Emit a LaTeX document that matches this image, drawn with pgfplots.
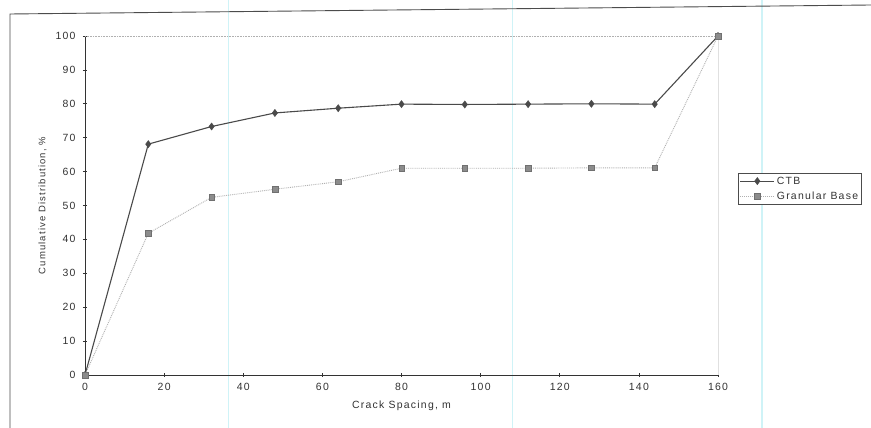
\documentclass[border=0pt]{standalone}
\usepackage{pgfplots}
\pgfplotsset{compat=1.18}
\usepackage{fontspec}
\setmainfont{Liberation Sans}[LetterSpace=12]
\definecolor{ctb}{HTML}{4A4A4A}
\definecolor{gran}{HTML}{8C8C8C}
\definecolor{granline}{HTML}{B0B0B0}
\definecolor{scan}{HTML}{CFF3F7}
\begin{document}
\begin{tikzpicture}
\useasboundingbox (0,0) rectangle (871bp,428bp);
\fill[white] (0,0) rectangle (871bp,428bp);
% scan artifacts
\draw[scan, line width=1bp] (228bp,0) -- (228bp,428bp);
\draw[scan, line width=1bp] (512bp,0) -- (512bp,428bp);
\draw[scan, line width=1.5bp] (762bp,0) -- (762bp,428bp);
% chart area frame
\draw[black!70, line width=0.9bp] (10bp,0) -- (10bp,414bp) -- (871bp,423bp);
\begin{axis}[
  at={(85bp,53bp)}, anchor=south west,
  scale only axis, width=633bp, height=339bp,
  xmin=0, xmax=160, ymin=0, ymax=100,
  xtick={0,20,...,160}, ytick={0,10,...,100},
  axis lines*=left,
  axis line style={black!80, line width=0.8bp},
  every axis x line/.append style={-},
  every axis y line/.append style={-},
  tick align=center, major tick length=4bp,
  tick style={black!80, line width=0.6bp},
  /pgf/number format/assume math mode=true,
  ticklabel style={font=\fontsize{10.5}{12}\selectfont, text=black!80},
  xticklabel style={yshift=-3bp},
  yticklabel style={xshift=-4bp},
  xlabel={Crack Spacing, m},
  xlabel style={font=\fontsize{10.5}{12}\selectfont, text=black!80, yshift=-3bp},
  ylabel={Cumulative Distribution, \%},
  ylabel style={font=\fontsize{9.5}{11}\selectfont, text=black!80, yshift=2bp},
  clip=false,
  legend image code/.code={
    \draw[mark repeat=2, mark phase=2] plot coordinates {(0cm,0cm) (0.6cm,0cm) (1.2cm,0cm)};},
  legend style={at={(1.0316,0.596)}, anchor=north west, draw=black!70,
    line width=0.5bp, font=\fontsize{10.5}{12}\selectfont, text=black!80,
    inner sep=1.5bp, row sep=2bp, cells={anchor=west}},
]
\draw[granline, densely dotted, line width=0.6bp] (axis cs:0,100) -- (axis cs:160,100);
\draw[black!12, line width=0.6bp] (axis cs:160,0) -- (axis cs:160,100);
\addplot[color=ctb, line width=1.1bp, mark=diamond*, mark size=3.6bp,
  mark options={fill=ctb, draw=ctb, line width=0.4bp}]
  coordinates {(0,0) (16,68.1) (32,73.3) (48,77.3) (64,78.7) (80,79.9)
               (96,79.8) (112,79.9) (128,80.0) (144,79.9) (160,100)};
\addlegendentry{CTB}
\addplot[color=granline, densely dotted, line width=0.9bp, mark=square*, mark size=2.8bp,
  mark options={solid, fill=gran, draw=gran!80!black, line width=0.4bp}]
  coordinates {(0,0) (16,41.8) (32,52.4) (48,54.8) (64,57.0) (80,61.0)
               (96,61.0) (112,61.0) (128,61.1) (144,61.1) (160,100)};
\addlegendentry{Granular Base}
\end{axis}
\end{tikzpicture}
\end{document}
